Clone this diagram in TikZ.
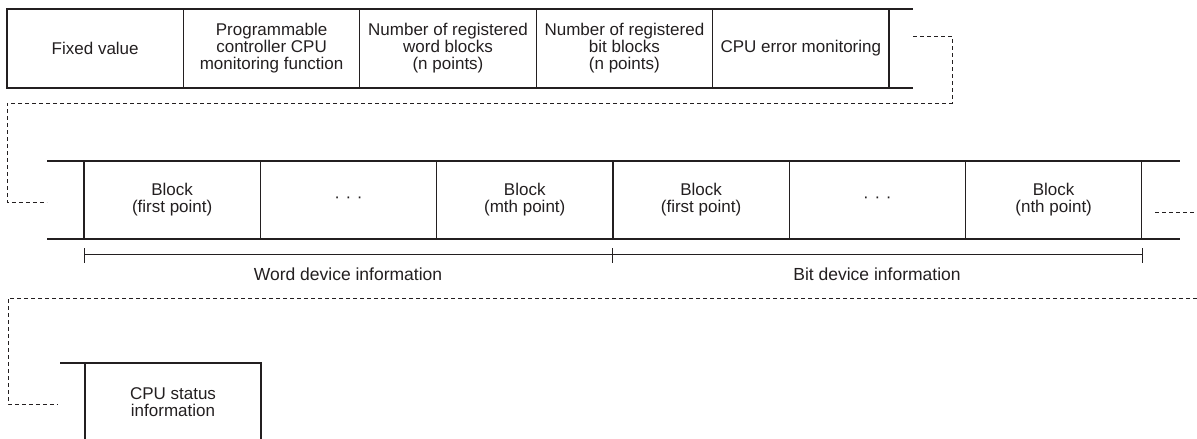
\documentclass[tikz,border=0pt]{standalone}
\usepackage{fontspec}
\setmainfont{Liberation Sans}
\usetikzlibrary{positioning}
\definecolor{frameInk}{HTML}{231F20}
\tikzset{
  frame line/.style={draw=frameInk, line width=1.3pt},
  link line/.style={draw=frameInk, line width=0.9pt, dash pattern=on 4pt off 3pt},
  field cell/.style={frame line, minimum width=176.4pt, minimum height=79pt, inner sep=0pt, outer sep=0pt, align=center, font=\fontsize{17}{17}\selectfont, text=frameInk},
  block cell/.style={field cell, minimum width=176.3pt, minimum height=78pt},
  span label/.style={font=\fontsize{17.5}{17}\selectfont, text=frameInk},
}

\begin{document}
\begin{tikzpicture}[x=1pt, y=-1pt]
  \useasboundingbox (0,0) rectangle (1197,439);

  % Header fields
  \node[field cell, anchor=north west] (fixed) at (7,9) {Fixed value};
  \node[field cell, right=0pt of fixed] (plcmon) {Programmable\\controller CPU\\monitoring function};
  \node[field cell, right=0pt of plcmon] (wordcnt) {Number of registered\\word blocks\\(n points)};
  \node[field cell, right=0pt of wordcnt] (bitcnt) {Number of registered\\bit blocks\\(n points)};
  \node[field cell, right=0pt of bitcnt] (errmon) {CPU error monitoring};
  \draw[frame line] (errmon.north east) -- ++(24,0);
  \draw[frame line] (errmon.south east) -- ++(24,0) coordinate (hdrend);

  % Link to block row
  \coordinate (linkAstart) at (913,36);
  \coordinate (linkAend) at (47,202);
  \draw[link line] (linkAstart) -- (952,36) -- (952,103) -- (7,103) -- (7,202) -- (linkAend);

  % Block row
  \node[block cell, anchor=north west] (wfirst) at (84,161) {Block\\(first point)};
  \node[block cell, right=0pt of wfirst] (wdots) {·\,\,·\,\,·};
  \node[block cell, right=0pt of wdots] (wlast) {Block\\(mth point)};
  \node[block cell, right=0pt of wlast] (bfirst) {Block\\(first point)};
  \node[block cell, right=0pt of bfirst] (bdots) {·\,\,·\,\,·};
  \node[block cell, right=0pt of bdots] (blast) {Block\\(nth point)};
  \draw[frame line] (wfirst.north west) -- ++(-37,0);
  \draw[frame line] (wfirst.south west) -- ++(-37,0);
  \draw[frame line] (blast.north east) -- ++(38,0);
  \draw[frame line] (blast.south east) -- ++(38,0);
  \coordinate (tailA) at (1155,212);
  \coordinate (tailB) at (1197,212);
  \draw[link line] (tailA) -- (tailB);

  % Ranges
  \coordinate (wordL) at (84,254);
  \coordinate (split) at (612,254);
  \coordinate (bitR) at (1142,254);
  \draw[frame line, line width=1pt] (wordL) -- (bitR);
  \foreach \t in {wordL, split, bitR} {
    \draw[frame line, line width=1pt] ([yshift=6pt]\t) -- ([yshift=-9pt]\t);
  }
  \node[span label] (wordinfo) at (348,274) {Word device information};
  \node[span label] (bitinfo) at (877,274) {Bit device information};

  % Link to status field
  \coordinate (linkBstart) at (1197,298);
  \coordinate (linkBend) at (58,404);
  \draw[link line] (linkBstart) -- (8,298) -- (8,404) -- (linkBend);

  % Status field
  \node[field cell, draw=none, anchor=north west, minimum width=176pt, minimum height=78pt] (cpustat) at (85,363) {CPU status\\information};
  \draw[frame line] (cpustat.south west) -- (cpustat.north west) -- (cpustat.north east) -- (cpustat.south east);
  \draw[frame line] (cpustat.north west) -- ++(-25,0);
\end{tikzpicture}
\end{document}
